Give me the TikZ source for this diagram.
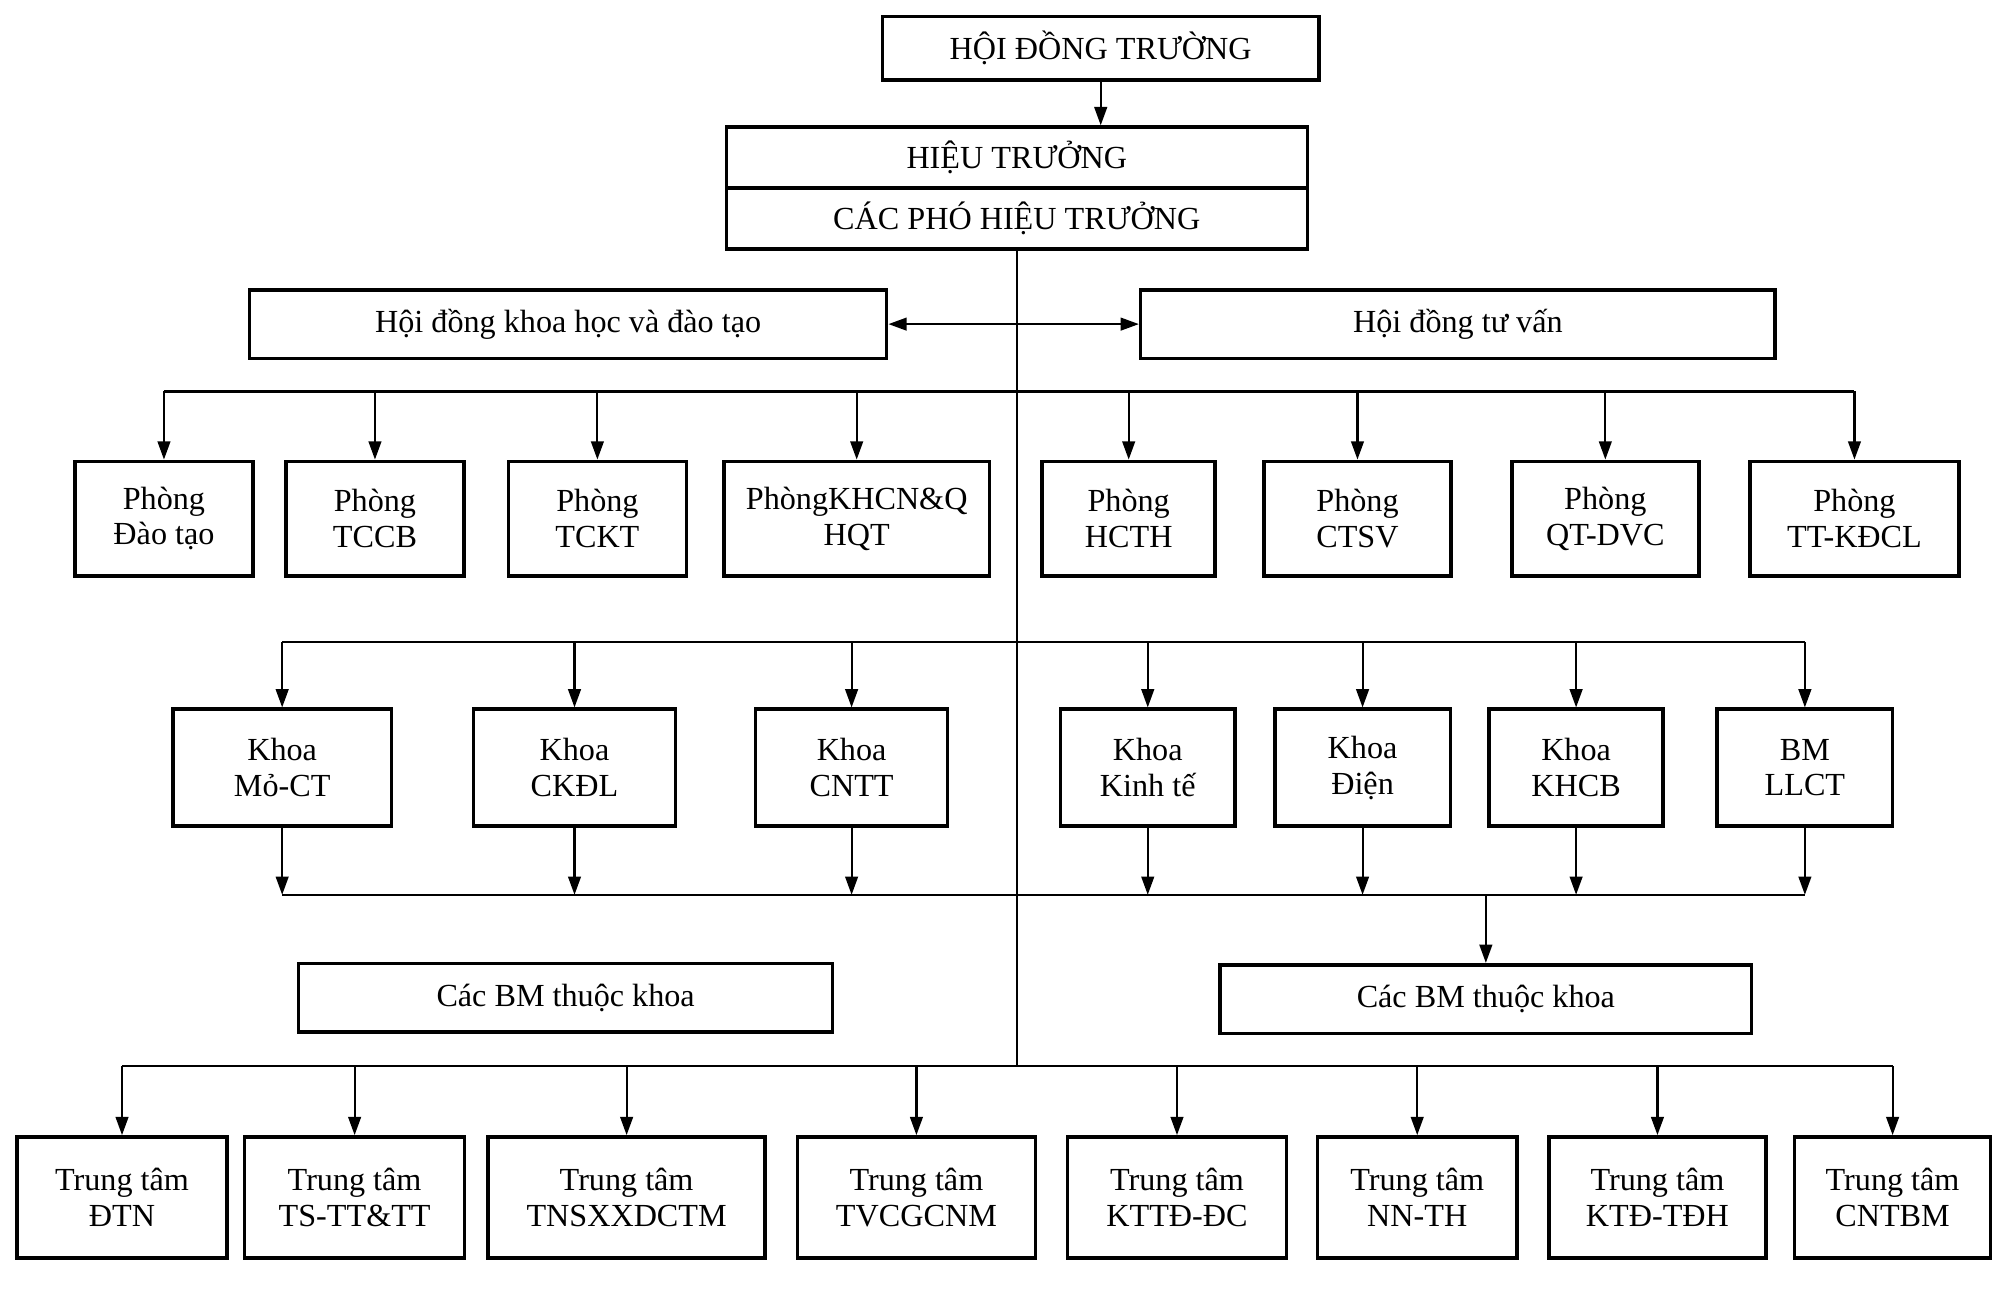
\documentclass[tikz,border=0pt]{standalone}
\usepackage{fontspec}
\setmainfont{Liberation Serif}
\usetikzlibrary{arrows.meta,calc,positioning}

\begin{document}
\begin{tikzpicture}[x=0.025cm,y=-0.025cm,
  box/.style={draw,line width=2pt,align=center,inner sep=2pt,font=\fontsize{18}{20}\selectfont},
  unit/.style={box,minimum height=2.25cm},
  band/.style={box,minimum height=1.3cm},
  arr/.style={-{Triangle[length=3.6mm,width=2.5mm]},line width=1.2pt},
  dbl/.style={{Triangle[length=3.6mm,width=2.5mm]}-{Triangle[length=3.6mm,width=2.5mm]},line width=1.2pt},
  ln/.style={line width=1.2pt}]
  \useasboundingbox (0,0) rectangle (1568,1016);
  % top
  \node[band,minimum width=8.575cm,minimum height=1.25cm] (hdt) at (866,38) {HỘI ĐỒNG TRƯỜNG};
  \node[band,minimum width=11.425cm,minimum height=1.2cm] (ht) at (800,124) {HIỆU TRƯỞNG};
  \node[band,minimum width=11.425cm,minimum height=1.2cm] (pht) at (800,172) {CÁC PHÓ HIỆU TRƯỞNG};
  \node[band,minimum width=12.525cm,minimum height=1.35cm] (hdkh) at (447,255) {Hội đồng khoa học và đào tạo};
  \node[band,minimum width=12.475cm,minimum height=1.35cm] (hdtv) at (1147,255) {Hội đồng tư vấn};
  \draw[arr] (hdt.south) -- (hdt.south |- ht.north);
  \draw[dbl] (hdkh.east) -- (hdtv.west);
  % phong
  \coordinate (pbus) at (0,308);
  \node[unit,minimum width=3.5cm] (p1) at (129,408) {Phòng\\Đào tạo};
  \node[unit,minimum width=3.5cm] (p2) at (295,408) {Phòng\\TCCB};
  \node[unit,minimum width=3.5cm] (p3) at (470,408) {Phòng\\TCKT};
  \node[unit,minimum width=5.225cm] (p4) at (674,408) {PhòngKHCN\&Q\\HQT};
  \node[unit,minimum width=3.4cm] (p5) at (888,408) {Phòng\\HCTH};
  \node[unit,minimum width=3.675cm] (p6) at (1068,408) {Phòng\\CTSV};
  \node[unit,minimum width=3.675cm] (p7) at (1263,408) {Phòng\\QT-DVC};
  \node[unit,minimum width=4.1cm] (p8) at (1459,408) {Phòng\\TT-KĐCL};
  \draw[ln] (p1.north |- pbus) -- (p8.north |- pbus);
  \foreach \i in {1,...,8}
    \draw[arr] (p\i.north |- pbus) -- (p\i.north);
  % khoa
  \coordinate (kbus) at (0,505);
  \coordinate (lbus) at (0,704);
  \node[unit,minimum width=4.3cm,minimum height=2.3cm] (k1) at (222,604) {Khoa\\Mỏ-CT};
  \node[unit,minimum width=3.975cm,minimum height=2.3cm] (k2) at (452,604) {Khoa\\CKĐL};
  \node[unit,minimum width=3.775cm,minimum height=2.3cm] (k3) at (670,604) {Khoa\\CNTT};
  \node[unit,minimum width=3.425cm,minimum height=2.3cm] (k4) at (903,604) {Khoa\\Kinh tế};
  \node[unit,minimum width=3.45cm,minimum height=2.3cm] (k5) at (1072,604) {Khoa\\Điện};
  \node[unit,minimum width=3.425cm,minimum height=2.3cm] (k6) at (1240,604) {Khoa\\KHCB};
  \node[unit,minimum width=3.45cm,minimum height=2.3cm] (k7) at (1420,604) {BM\\LLCT};
  \draw[ln] (k1.north |- kbus) -- (k7.north |- kbus);
  \draw[ln] (k1.south |- lbus) -- (k7.south |- lbus);
  \foreach \i in {1,...,7}{
    \draw[arr] (k\i.north |- kbus) -- (k\i.north);
    \draw[arr] (k\i.south) -- (k\i.south |- lbus);
  }
  % bo mon
  \node[band,minimum width=10.5cm,minimum height=1.35cm] (bmL) at (445,785) {Các BM thuộc khoa};
  \node[band,minimum width=10.45cm,minimum height=1.35cm] (bmR) at (1169,786) {Các BM thuộc khoa};
  \draw[arr] (bmR.north |- lbus) -- (bmR.north);
  % trung tam
  \coordinate (tbus) at (0,839);
  \node[unit,minimum width=4.125cm,minimum height=2.375cm] (t1) at (96,942) {Trung tâm\\ĐTN};
  \node[unit,minimum width=4.325cm,minimum height=2.375cm] (t2) at (279,942) {Trung tâm\\TS-TT\&TT};
  \node[unit,minimum width=5.45cm,minimum height=2.375cm] (t3) at (493,942) {Trung tâm\\TNSXXDCTM};
  \node[unit,minimum width=4.675cm,minimum height=2.375cm] (t4) at (721,942) {Trung tâm\\TVCGCNM};
  \node[unit,minimum width=4.3cm,minimum height=2.375cm] (t5) at (926,942) {Trung tâm\\KTTĐ-ĐC};
  \node[unit,minimum width=3.925cm,minimum height=2.375cm] (t6) at (1115,942) {Trung tâm\\NN-TH};
  \node[unit,minimum width=4.275cm,minimum height=2.375cm] (t7) at (1304,942) {Trung tâm\\KTĐ-TĐH};
  \node[unit,minimum width=3.85cm,minimum height=2.375cm] (t8) at (1489,942) {Trung tâm\\CNTBM};
  \draw[ln] (t1.north |- tbus) -- (t8.north |- tbus);
  \foreach \i in {1,...,8}
    \draw[arr] (t\i.north |- tbus) -- (t\i.north);
  % spine
  \draw[ln] (pht.south) -- (pht.south |- tbus);
\end{tikzpicture}
\end{document}
